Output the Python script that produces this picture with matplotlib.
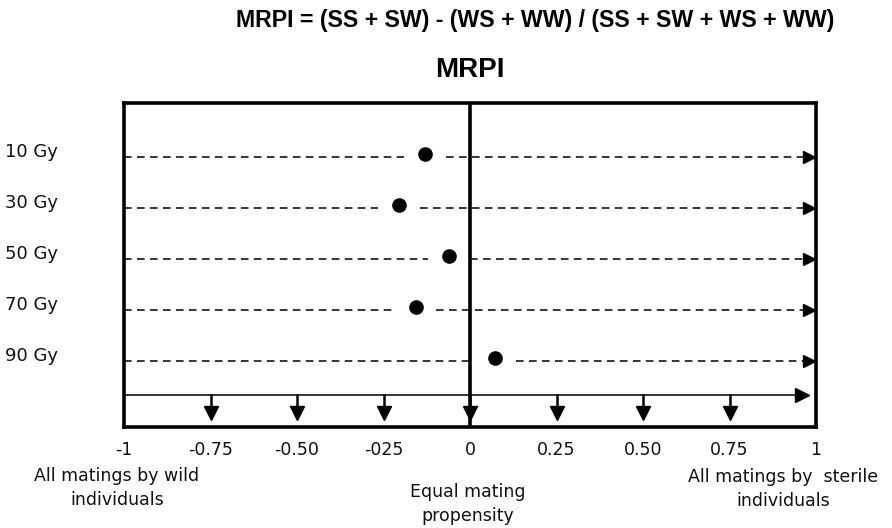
import matplotlib
matplotlib.use("Agg")
import matplotlib.pyplot as plt

# ---------------- data ----------------
doses = ["10 Gy", "30 Gy", "50 Gy", "70 Gy", "90 Gy"]
mrpi = [-0.13, -0.205, -0.06, -0.157, 0.072]
tick_values = [-1, -0.75, -0.5, -0.25, 0, 0.25, 0.5, 0.75, 1]
tick_labels = ["-1", "-0.75", "-0.50", "-025", "0", "0.25", "0.50", "0.75", "1"]
arrow_ticks = [-0.75, -0.5, -0.25, 0, 0.25, 0.5, 0.75]
title_text = "MRPI = (SS + SW) - (WS + WW) / (SS + SW + WS + WW)"
subtitle_text = "MRPI"
left_note = "All matings by wild\nindividuals"
mid_note = "Equal mating\npropensity"
right_note = "All matings by  sterile\nindividuals"

title_font = "Liberation Sans"
body = "DejaVu Sans"

W, H = 892, 528
fig = plt.figure(figsize=(W / 100, H / 100), dpi=100)
L, R, T, B = 124, 816, 102.7, 427
ax = fig.add_axes([L / W, 1 - B / H, (R - L) / W, (B - T) / H])

n = len(doses)
ys = [n - i for i in range(n)]  # 10 Gy on top
ax.set_xlim(-1, 1)
ax.set_ylim(-0.3, n + 1.059)

for s in ax.spines.values():
    s.set_linewidth(2.6)
    s.set_color("black")
ax.set_xticks([])
ax.set_yticks([])

gap = 0.06
dash_kw = dict(color="black", lw=1.1, dashes=(5, 3.5), zorder=1)
for y, v, lab in zip(ys, mrpi, doses):
    ax.plot([-1, v - gap], [y, y], **dash_kw)
    ax.plot([v + gap, 0.965], [y, y], **dash_kw)
    ax.plot([0.98], [y], marker=">", color="black", ms=9, zorder=3, clip_on=False)
    ax.plot([v], [y + 0.05], marker="o", color="black", ms=9.5, zorder=4)
    ax.text(-1.345, y + 0.1, lab, fontsize=13, family=body, ha="left", va="center",
            color="#111111")

# central line
ax.axvline(0, color="black", lw=2.6, zorder=3)

# horizontal base line with arrow
base_y = 0.327
ax.plot([-1, 0.96], [base_y, base_y], color="black", lw=1.1, zorder=2)
ax.plot([0.96], [base_y], marker=">", color="black", ms=10, zorder=3)

# downward arrows
for t in arrow_ticks:
    ax.plot([t, t], [base_y, 0.05], color="black", lw=1.8, zorder=3)
    ax.plot([t], [-0.02], marker="v", color="black", ms=10.5, zorder=3)

# tick labels
for t, lab in zip(tick_values, tick_labels):
    ax.text(t, -0.3 - 23 / 51, lab, fontsize=12.5, family=body, ha="center", va="center",
            color="#111111")

fig.text(535 / W, 1 - 20 / H, title_text, fontsize=16.7, family=title_font, weight="bold",
         ha="center", va="center")
fig.text(470 / W, 1 - 70 / H, subtitle_text, fontsize=20, family=title_font, weight="bold",
         ha="center", va="center")
fig.text(117 / W, 1 - 488 / H, left_note, fontsize=12.5, family=body, ha="center", va="center",
         linespacing=1.4, color="#111111")
fig.text(468 / W, 1 - 504 / H, mid_note, fontsize=12.5, family=body, ha="center", va="center",
         linespacing=1.4, color="#111111")
fig.text(783 / W, 1 - 489 / H, right_note, fontsize=12.5, family=body, ha="center", va="center",
         linespacing=1.4, color="#111111")

fig.savefig("out.png", dpi=100)
